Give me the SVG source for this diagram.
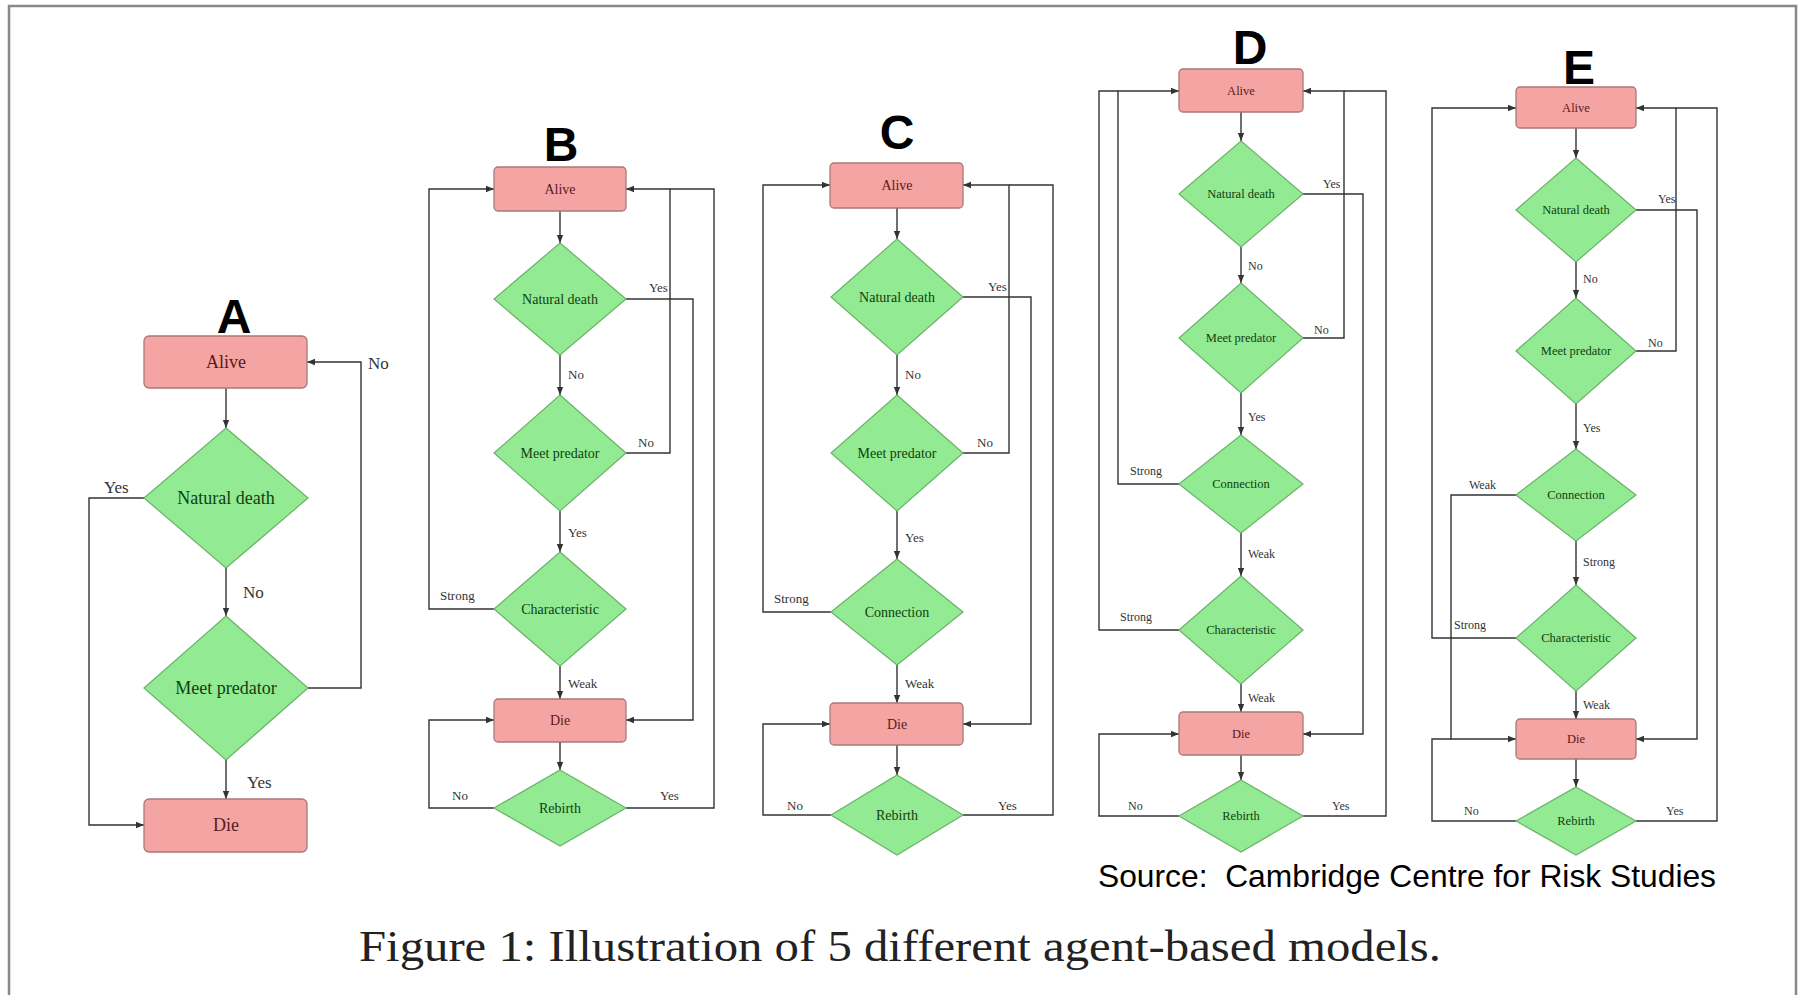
<svg xmlns="http://www.w3.org/2000/svg" width="1798" height="995" viewBox="0 0 1798 995">
<defs>
<marker id="ah" viewBox="0 0 10 10" refX="10" refY="5" markerWidth="8" markerHeight="8" markerUnits="userSpaceOnUse" orient="auto"><path d="M0,1 L10,5 L0,9 z" fill="#333"/></marker>
<style>
.rect{fill:#f5a4a4;stroke:#a87878;stroke-width:1.3}
.dia{fill:#92ea92;stroke:#6ab26a;stroke-width:1.2}
.con{fill:none;stroke:#333;stroke-width:1.4}
.arr{marker-end:url(#ah)}
.rt{font-family:"Liberation Serif",serif;fill:#5a1a1a;text-anchor:middle}
.dt{font-family:"Liberation Serif",serif;fill:#103f10;text-anchor:middle}
.lb{font-family:"Liberation Serif",serif;fill:#333}
.big{font-family:"Liberation Sans",Arial,sans-serif;font-weight:bold;font-size:48px;fill:#000;text-anchor:middle}
.sA{font-size:18px}
.lA{font-size:17px}
.sB{font-size:14px}
.lB{font-size:13px}
.sD{font-size:12.5px}
.lD{font-size:12px}
</style>
</defs>
<rect x="0" y="0" width="1798" height="995" fill="#fff"/>
<path d="M9,1000 V6 H1796 V1000" fill="none" stroke="#888" stroke-width="2.5"/>

<!-- Titles -->
<text class="big" x="234" y="333">A</text>
<text class="big" x="561" y="161">B</text>
<text class="big" x="897" y="149">C</text>
<text class="big" x="1250" y="64">D</text>
<text class="big" x="1579" y="84">E</text>

<!-- ===== Diagram A ===== -->
<g id="connectors-A">
<path class="con arr" d="M226,388 V428"/>
<path class="con arr" d="M226,568 V616"/>
<path class="con arr" d="M226,760 V799"/>
<path class="con arr" d="M144,498 H89 V825 H144"/>
<path class="con arr" d="M308,688 H361 V362 H307"/>
<text class="lb lA" x="243" y="598">No</text>
<text class="lb lA" x="247" y="788">Yes</text>
<text class="lb lA" x="104" y="493">Yes</text>
<text class="lb lA" x="368" y="369">No</text>
</g>
<g id="A-alive"><rect class="rect" x="144" y="336" width="163" height="52" rx="5"/><text class="rt sA" x="226" y="368">Alive</text></g>
<g id="A-natural"><polygon class="dia" points="226,428 308,498 226,568 144,498"/><text class="dt sA" x="226" y="504">Natural death</text></g>
<g id="A-predator"><polygon class="dia" points="226,616 308,688 226,760 144,688"/><text class="dt sA" x="226" y="694">Meet predator</text></g>
<g id="A-die"><rect class="rect" x="144" y="799" width="163" height="53" rx="5"/><text class="rt sA" x="226" y="831">Die</text></g>

<!-- ===== Diagram B ===== -->
<g id="connectors-B">
<path class="con arr" d="M560,211 V243"/>
<path class="con arr" d="M560,355 V395"/>
<path class="con arr" d="M560,511 V552"/>
<path class="con arr" d="M560,666 V699"/>
<path class="con arr" d="M560,742 V770"/>
<path class="con arr" d="M494,609 H429 V189 H494"/>
<path class="con arr" d="M494,808 H429 V720 H494"/>
<path class="con arr" d="M626,453 H670 V189 H626"/>
<path class="con arr" d="M626,299 H693 V720 H626"/>
<path class="con" d="M626,808 H714 V189 H670"/>
<text class="lb lB" x="568" y="379">No</text>
<text class="lb lB" x="568" y="537">Yes</text>
<text class="lb lB" x="568" y="688">Weak</text>
<text class="lb lB" x="440" y="600">Strong</text>
<text class="lb lB" x="638" y="447">No</text>
<text class="lb lB" x="649" y="292">Yes</text>
<text class="lb lB" x="452" y="800">No</text>
<text class="lb lB" x="660" y="800">Yes</text>
</g>
<g id="B-alive"><rect class="rect" x="494" y="167" width="132" height="44" rx="4"/><text class="rt sB" x="560" y="194">Alive</text></g>
<g id="B-natural"><polygon class="dia" points="560,243 626,299 560,355 494,299"/><text class="dt sB" x="560" y="304">Natural death</text></g>
<g id="B-predator"><polygon class="dia" points="560,395 626,453 560,511 494,453"/><text class="dt sB" x="560" y="458">Meet predator</text></g>
<g id="B-characteristic"><polygon class="dia" points="560,552 626,609 560,666 494,609"/><text class="dt sB" x="560" y="614">Characteristic</text></g>
<g id="B-die"><rect class="rect" x="494" y="699" width="132" height="43" rx="4"/><text class="rt sB" x="560" y="725">Die</text></g>
<g id="B-rebirth"><polygon class="dia" points="560,770 626,808 560,846 494,808"/><text class="dt sB" x="560" y="813">Rebirth</text></g>

<!-- ===== Diagram C ===== -->
<g id="connectors-C">
<path class="con arr" d="M897,208 V239"/>
<path class="con arr" d="M897,355 V395"/>
<path class="con arr" d="M897,511 V559"/>
<path class="con arr" d="M897,665 V703"/>
<path class="con arr" d="M897,745 V775"/>
<path class="con arr" d="M831,612 H763 V185 H830"/>
<path class="con arr" d="M831,815 H763 V724 H830"/>
<path class="con arr" d="M963,453 H1009 V185 H963"/>
<path class="con arr" d="M963,297 H1031 V724 H963"/>
<path class="con" d="M963,815 H1053 V185 H1009"/>
<text class="lb lB" x="905" y="379">No</text>
<text class="lb lB" x="905" y="542">Yes</text>
<text class="lb lB" x="905" y="688">Weak</text>
<text class="lb lB" x="774" y="603">Strong</text>
<text class="lb lB" x="977" y="447">No</text>
<text class="lb lB" x="988" y="291">Yes</text>
<text class="lb lB" x="787" y="810">No</text>
<text class="lb lB" x="998" y="810">Yes</text>
</g>
<g id="C-alive"><rect class="rect" x="830" y="163" width="133" height="45" rx="4"/><text class="rt sB" x="897" y="190">Alive</text></g>
<g id="C-natural"><polygon class="dia" points="897,239 963,297 897,355 831,297"/><text class="dt sB" x="897" y="302">Natural death</text></g>
<g id="C-predator"><polygon class="dia" points="897,395 963,453 897,511 831,453"/><text class="dt sB" x="897" y="458">Meet predator</text></g>
<g id="C-connection"><polygon class="dia" points="897,559 963,612 897,665 831,612"/><text class="dt sB" x="897" y="617">Connection</text></g>
<g id="C-die"><rect class="rect" x="830" y="703" width="133" height="42" rx="4"/><text class="rt sB" x="897" y="729">Die</text></g>
<g id="C-rebirth"><polygon class="dia" points="897,775 963,815 897,855 831,815"/><text class="dt sB" x="897" y="820">Rebirth</text></g>

<!-- ===== Diagram D ===== -->
<g id="connectors-D">
<path class="con arr" d="M1241,112 V141"/>
<path class="con arr" d="M1241,247 V283"/>
<path class="con arr" d="M1241,393 V435"/>
<path class="con arr" d="M1241,533 V576"/>
<path class="con arr" d="M1241,684 V712"/>
<path class="con arr" d="M1241,755 V780"/>
<path class="con arr" d="M1179,484 H1118 V91 H1179"/>
<path class="con" d="M1179,630 H1099 V91 H1118"/>
<path class="con arr" d="M1179,816 H1099 V734 H1179"/>
<path class="con arr" d="M1303,338 H1344 V91 H1303"/>
<path class="con arr" d="M1303,194 H1363 V734 H1303"/>
<path class="con" d="M1303,816 H1386 V91 H1344"/>
<text class="lb lD" x="1248" y="270">No</text>
<text class="lb lD" x="1248" y="421">Yes</text>
<text class="lb lD" x="1248" y="558">Weak</text>
<text class="lb lD" x="1248" y="702">Weak</text>
<text class="lb lD" x="1130" y="475">Strong</text>
<text class="lb lD" x="1120" y="621">Strong</text>
<text class="lb lD" x="1314" y="334">No</text>
<text class="lb lD" x="1323" y="188">Yes</text>
<text class="lb lD" x="1128" y="810">No</text>
<text class="lb lD" x="1332" y="810">Yes</text>
</g>
<g id="D-alive"><rect class="rect" x="1179" y="69" width="124" height="43" rx="4"/><text class="rt sD" x="1241" y="95">Alive</text></g>
<g id="D-natural"><polygon class="dia" points="1241,141 1303,194 1241,247 1179,194"/><text class="dt sD" x="1241" y="198">Natural death</text></g>
<g id="D-predator"><polygon class="dia" points="1241,283 1303,338 1241,393 1179,338"/><text class="dt sD" x="1241" y="342">Meet predator</text></g>
<g id="D-connection"><polygon class="dia" points="1241,435 1303,484 1241,533 1179,484"/><text class="dt sD" x="1241" y="488">Connection</text></g>
<g id="D-characteristic"><polygon class="dia" points="1241,576 1303,630 1241,684 1179,630"/><text class="dt sD" x="1241" y="634">Characteristic</text></g>
<g id="D-die"><rect class="rect" x="1179" y="712" width="124" height="43" rx="4"/><text class="rt sD" x="1241" y="738">Die</text></g>
<g id="D-rebirth"><polygon class="dia" points="1241,780 1303,816 1241,852 1179,816"/><text class="dt sD" x="1241" y="820">Rebirth</text></g>

<!-- ===== Diagram E ===== -->
<g id="connectors-E">
<path class="con arr" d="M1576,128 V158"/>
<path class="con arr" d="M1576,262 V298"/>
<path class="con arr" d="M1576,404 V449"/>
<path class="con arr" d="M1576,541 V585"/>
<path class="con arr" d="M1576,691 V719"/>
<path class="con arr" d="M1576,759 V787"/>
<path class="con arr" d="M1516,495 H1451 V739 H1516"/>
<path class="con arr" d="M1516,638 H1432 V108 H1516"/>
<path class="con" d="M1516,821 H1432 V739 H1451"/>
<path class="con arr" d="M1636,351 H1676 V108 H1636"/>
<path class="con arr" d="M1636,210 H1697 V739 H1636"/>
<path class="con" d="M1636,821 H1717 V108 H1676"/>
<text class="lb lD" x="1583" y="283">No</text>
<text class="lb lD" x="1583" y="432">Yes</text>
<text class="lb lD" x="1583" y="566">Strong</text>
<text class="lb lD" x="1583" y="709">Weak</text>
<text class="lb lD" x="1469" y="489">Weak</text>
<text class="lb lD" x="1454" y="629">Strong</text>
<text class="lb lD" x="1658" y="203">Yes</text>
<text class="lb lD" x="1648" y="347">No</text>
<text class="lb lD" x="1464" y="815">No</text>
<text class="lb lD" x="1666" y="815">Yes</text>
</g>
<g id="E-alive"><rect class="rect" x="1516" y="87" width="120" height="41" rx="4"/><text class="rt sD" x="1576" y="112">Alive</text></g>
<g id="E-natural"><polygon class="dia" points="1576,158 1636,210 1576,262 1516,210"/><text class="dt sD" x="1576" y="214">Natural death</text></g>
<g id="E-predator"><polygon class="dia" points="1576,298 1636,351 1576,404 1516,351"/><text class="dt sD" x="1576" y="355">Meet predator</text></g>
<g id="E-connection"><polygon class="dia" points="1576,449 1636,495 1576,541 1516,495"/><text class="dt sD" x="1576" y="499">Connection</text></g>
<g id="E-characteristic"><polygon class="dia" points="1576,585 1636,638 1576,691 1516,638"/><text class="dt sD" x="1576" y="642">Characteristic</text></g>
<g id="E-die"><rect class="rect" x="1516" y="719" width="120" height="40" rx="4"/><text class="rt sD" x="1576" y="743">Die</text></g>
<g id="E-rebirth"><polygon class="dia" points="1576,787 1636,821 1576,855 1516,821"/><text class="dt sD" x="1576" y="825">Rebirth</text></g>

<text x="1098" y="887" font-family="'Liberation Sans',Arial,sans-serif" font-size="31.5" fill="#000" textLength="618" lengthAdjust="spacingAndGlyphs" xml:space="preserve">Source:  Cambridge Centre for Risk Studies</text>
<text x="359" y="961" font-family="'Liberation Serif','Times New Roman',serif" font-size="44" fill="#222" textLength="1082" lengthAdjust="spacingAndGlyphs">Figure 1: Illustration of 5 different agent-based models.</text>
</svg>
